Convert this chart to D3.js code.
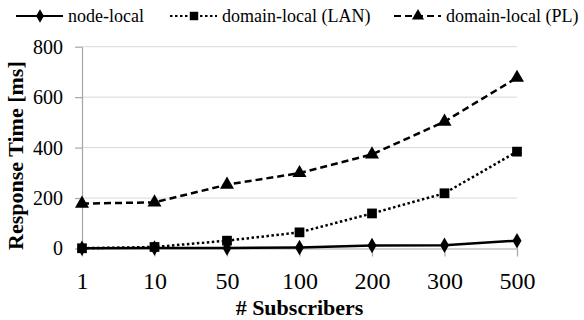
<!DOCTYPE html>
<html>
<head>
<meta charset="utf-8">
<script src="https://cdn.jsdelivr.net/npm/d3@7"></script>
</head>
<body style="margin:0">
<svg id="chart" width="584" height="320" font-family="Liberation Serif"></svg>
<script>
// Subscriber counts (categorical x axis)
const subscribers = ["1", "10", "50", "100", "200", "300", "500"];

// Response time in ms for each deployment
const nodeLocal      = [1, 2, 2, 4, 12, 13, 31];
const domainLocalLAN = [1, 6, 31, 64, 139, 219, 384];
const domainLocalPL  = [178, 183, 253, 299, 373, 503, 677];

const yTicks = [0, 200, 400, 600, 800];

const seriesNames = ["node-local", "domain-local (LAN)", "domain-local (PL)"];

const FONT = "Liberation Serif";

const series = [
  { name: seriesNames[0], values: nodeLocal,      symbol: d3.symbolDiamond,  size: 70, dash: null },
  { name: seriesNames[1], values: domainLocalLAN, symbol: d3.symbolSquare,   size: 95, dash: "2.5,2.5" },
  { name: seriesNames[2], values: domainLocalPL,  symbol: d3.symbolTriangle, size: 85, dash: "7,4" }
];

const svg = d3.select("#chart");
const plotLeft = 82, plotRight = 517, plotTop = 46.7, plotBottom = 248.5;

const x = d3.scalePoint().domain(subscribers).range([plotLeft, plotRight]).padding(0);
const y = d3.scaleLinear().domain([0, 800]).range([plotBottom, plotTop]);

// horizontal gridlines
svg.append("g")
  .selectAll("line")
  .data(yTicks.filter(t => t > 0))
  .join("line")
  .attr("x1", plotLeft).attr("x2", plotRight)
  .attr("y1", d => y(d)).attr("y2", d => y(d))
  .attr("stroke", "#d9d9d9").attr("stroke-width", 1);

// y axis
const yAxis = svg.append("g")
  .attr("transform", `translate(${plotLeft},0)`)
  .call(d3.axisLeft(y).tickValues(yTicks).tickSize(7).tickPadding(12).tickSizeOuter(0))
  .attr("font-family", FONT)
  .attr("font-size", 20);
yAxis.select(".domain").attr("stroke", "#a6a6a6").attr("stroke-width", 1.2);
yAxis.selectAll(".tick line").attr("stroke", "#a6a6a6").attr("stroke-width", 1.2);
yAxis.selectAll(".tick text")
  .attr("font-family", FONT)
  .attr("font-size", 20).attr("fill", "#000");

// x axis
const xAxis = svg.append("g")
  .attr("transform", `translate(0,${plotBottom})`)
  .call(d3.axisBottom(x).tickSize(8).tickPadding(15.5).tickSizeOuter(0))
  .attr("font-family", FONT)
  .attr("font-size", 24);
xAxis.select(".domain").attr("stroke", "#a6a6a6").attr("stroke-width", 1.2);
xAxis.selectAll(".tick line").attr("stroke", "#a6a6a6").attr("stroke-width", 1.2);
xAxis.selectAll(".tick text")
  .attr("font-family", FONT)
  .attr("font-size", 24).attr("fill", "#000");

// series lines and markers
const line = d3.line().x((d, i) => x(subscribers[i])).y(d => y(d));

series.forEach(s => {
  svg.append("path")
    .datum(s.values)
    .attr("d", line)
    .attr("fill", "none")
    .attr("stroke", "#000")
    .attr("stroke-width", 2.5)
    .attr("stroke-dasharray", s.dash);
  svg.append("g")
    .selectAll("path")
    .data(s.values)
    .join("path")
    .attr("transform", (d, i) => `translate(${x(subscribers[i])},${y(d)})`)
    .attr("d", d3.symbol().type(s.symbol).size(s.size))
    .attr("fill", "#000");
});

// axis titles
svg.append("text")
  .attr("transform", `translate(23,${(plotTop + plotBottom) / 2 + 8}) rotate(-90)`)
  .attr("text-anchor", "middle")
  .attr("font-family", FONT)
  .attr("font-size", 22).attr("font-weight", "bold")
  .text("Response Time [ms]");

svg.append("text")
  .attr("x", (plotLeft + plotRight) / 2).attr("y", 315)
  .attr("text-anchor", "middle")
  .attr("font-family", FONT)
  .attr("font-size", 22).attr("font-weight", "bold")
  .text("# Subscribers");

// legend: sample line with marker, then label
const legendTextX = [68, 222, 446];
series.forEach((s, i) => {
  const tx = legendTextX[i];
  const g = svg.append("g").attr("transform", `translate(${tx - 52},16)`);
  g.append("line")
    .attr("x1", 0).attr("x2", 47).attr("y1", 0).attr("y2", 0)
    .attr("stroke", "#000").attr("stroke-width", 2.2)
    .attr("stroke-dasharray", s.dash);
  g.append("path")
    .attr("transform", "translate(24,0)")
    .attr("d", d3.symbol().type(s.symbol).size(s.size * 0.75))
    .attr("fill", "#000");
  g.append("text")
    .attr("x", 52).attr("y", 6)
    .attr("font-family", FONT)
    .attr("font-size", 18)
    .text(s.name);
});
</script>
</body>
</html>
